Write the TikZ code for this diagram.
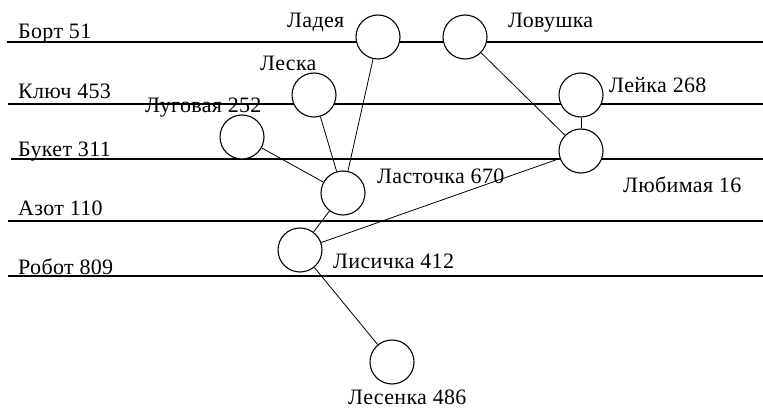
\documentclass[tikz,border=0pt]{standalone}
\usepackage{fontspec}
\setmainfont[LetterSpace=1.5]{Liberation Serif}
\begin{document}
\begin{tikzpicture}[x=1pt,y=-1pt,
  hline/.style={line width=1.3pt},
  conn/.style={line width=0.8pt},
  vert/.style={circle,draw,line width=1.1pt,fill=white,minimum size=44pt,inner sep=0pt},
  lbl/.style={anchor=base west,inner sep=0pt,font=\fontsize{22}{22}\selectfont}]
\useasboundingbox (0,0) rectangle (763,409);
% horizontal lines
\foreach \n/\x/\y in {b/7/42, k/8/104, u/11/159, a/8/221, r/8/276}{
  \coordinate (\n0) at (\x,\y);
  \coordinate (\n1) at (763,\y);
  \draw[hline] (\n0) -- (\n1);
}
% line labels
\node[lbl] (lb) at (18,39) {Борт 51};
\node[lbl] (lk) at (18,99) {Ключ 453};
\node[lbl] (lu) at (18,157) {Букет 311};
\node[lbl] (la) at (18,215) {Азот 110};
\node[lbl] (lr) at (18,274) {Робот 809};
% vertices
\node[vert] (ladeya) at (378,37) {};
\node[vert] (lovushka) at (465,37) {};
\node[vert] (leska) at (314,95) {};
\node[vert] (lugovaya) at (242,137) {};
\node[vert] (lastochka) at (343,193) {};
\node[vert] (leyka) at (581,95) {};
\node[vert] (lyubimaya) at (581,151) {};
\node[vert] (lisichka) at (300,250) {};
\node[vert] (lesenka) at (392,362) {};
% vertex labels
\node[lbl] (tladeya) at (287,28) {Ладея};
\node[lbl] (tlovushka) at (508,28) {Ловушка};
\node[lbl] (tleska) at (260,71) {Леска};
\node[lbl] (tlugovaya) at (145,113) {Луговая 252};
\node[lbl] (tleyka) at (609,93) {Лейка 268};
\node[lbl] (tlastochka) at (377,183) {Ласточка 670};
\node[lbl] (tlyubimaya) at (623,192) {Любимая 16};
\node[lbl] (tlisichka) at (333,268) {Лисичка 412};
\node[lbl] (tlesenka) at (348,404) {Лесенка 486};
% connectors
\draw[conn] (ladeya) -- (lastochka);
\draw[conn] (leska) -- (lastochka);
\draw[conn] (lugovaya) -- (lastochka);
\draw[conn] (lovushka) -- (lyubimaya);
\draw[conn] (leyka) -- (lyubimaya);
\draw[conn] (lyubimaya) -- (lisichka);
\draw[conn] (lastochka) -- (lisichka);
\draw[conn] (lisichka) -- (lesenka);
\end{tikzpicture}
\end{document}
